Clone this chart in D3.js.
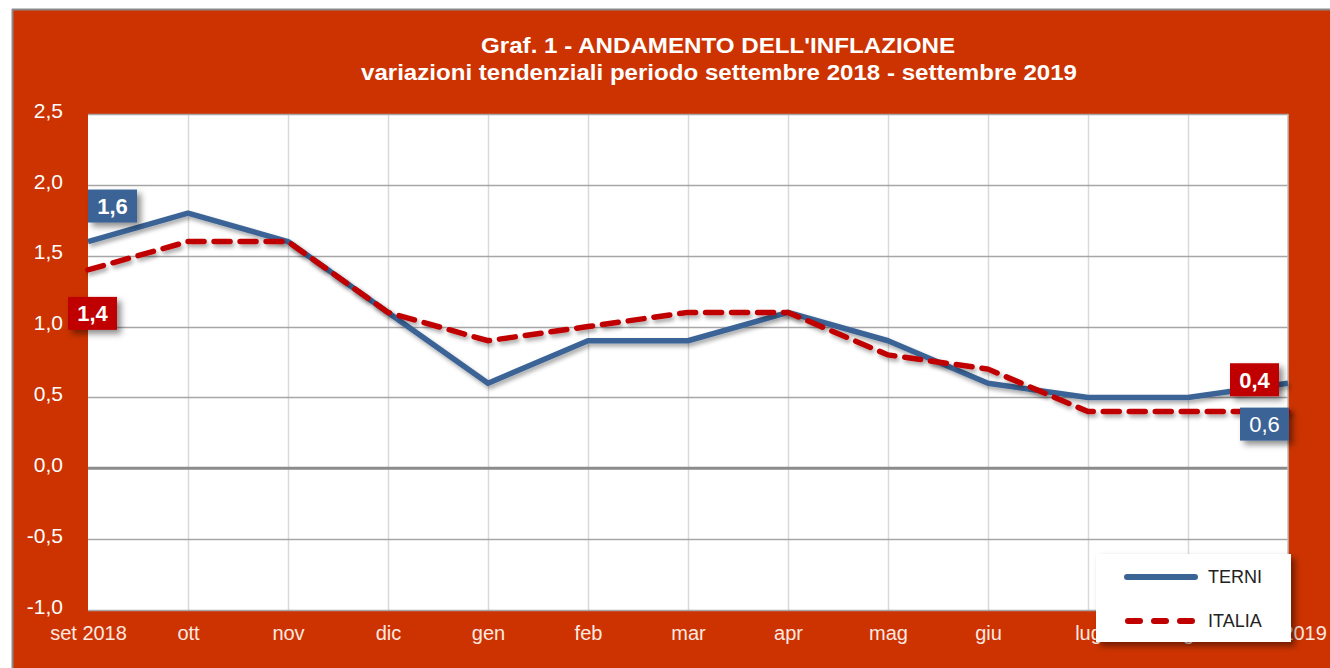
<!DOCTYPE html>
<html><head><meta charset="utf-8">
<script src="https://cdn.jsdelivr.net/npm/d3@7"></script>
<style>
html,body{margin:0;padding:0;background:#fff;}
svg{display:block;}
</style></head>
<body>
<svg id="c" width="1330" height="668"></svg>
<script>
const months = ["set 2018","ott","nov","dic","gen","feb","mar","apr","mag","giu","lug","ago","set 2019"];
const terni  = [1.6,1.8,1.6,1.1,0.6,0.9,0.9,1.1,0.9,0.6,0.5,0.5,0.6];
const italia = [1.4,1.6,1.6,1.1,0.9,1.0,1.1,1.1,0.8,0.7,0.4,0.4,0.4];
const yTicks = [-1.0,-0.5,0.0,0.5,1.0,1.5,2.0,2.5];
const seriesNames = ["TERNI","ITALIA"];
const titleLines = ["Graf. 1 - ANDAMENTO DELL'INFLAZIONE","variazioni tendenziali periodo settembre 2018 - settembre 2019"];
const endLabels = [
  {text:"1,6", color:"#3A6496", bold:true},
  {text:"1,4", color:"#C00000", bold:true},
  {text:"0,4", color:"#C00000", bold:true},
  {text:"0,6", color:"#3A6496", bold:false}
];

const svg = d3.select("#c");
const defs = svg.append("defs");
const f = defs.append("filter").attr("id","sh").attr("x","-20%").attr("y","-50%").attr("width","150%").attr("height","250%");
f.append("feDropShadow").attr("dx",2).attr("dy",3).attr("stdDeviation",2).attr("flood-color","#000").attr("flood-opacity",0.35);
const f2 = defs.append("filter").attr("id","bsh").attr("x","-30%").attr("y","-30%").attr("width","170%").attr("height","170%");
f2.append("feDropShadow").attr("dx",4).attr("dy",4).attr("stdDeviation",3).attr("flood-color","#000").attr("flood-opacity",0.45);

// frame
svg.append("rect").attr("x",12).attr("y",9).attr("width",1330).attr("height",680).attr("fill","#CC3300");
svg.append("line").attr("x1",12).attr("x2",1330).attr("y1",9.5).attr("y2",9.5).attr("stroke","#8a8a8a").attr("stroke-width",2);
svg.append("line").attr("x1",12.5).attr("x2",12.5).attr("y1",9).attr("y2",668).attr("stroke","#8a8a8a").attr("stroke-width",2);

const L=88, R=1288, T=114, B=610;
const x = d3.scalePoint().domain(months).range([L,R]);
const y = d3.scaleLinear().domain([-1,2.5]).range([B,T]);

svg.append("rect").attr("x",L).attr("y",T).attr("width",R-L).attr("height",B-T).attr("fill","#fff");

svg.append("g").selectAll("line").data(months.slice(1,-1)).join("line")
  .attr("x1",d=>x(d)+0.5).attr("x2",d=>x(d)+0.5).attr("y1",T).attr("y2",B)
  .attr("stroke","#d9d9d9").attr("stroke-width",1.5);
svg.append("g").selectAll("line").data(yTicks.filter(v=>v!==0)).join("line")
  .attr("x1",L).attr("x2",R).attr("y1",d=>Math.round(y(d))+0.5).attr("y2",d=>Math.round(y(d))+0.5)
  .attr("stroke","#a6a6a6").attr("stroke-width",1.5);
svg.append("line").attr("x1",L).attr("x2",R).attr("y1",y(0)).attr("y2",y(0)).attr("stroke","#8c8c8c").attr("stroke-width",3);
svg.append("line").attr("x1",R).attr("x2",R).attr("y1",T).attr("y2",B).attr("stroke","#bfbfbf").attr("stroke-width",1.5);

const yAxis = d3.axisLeft(y).tickValues(yTicks).tickSize(0).tickPadding(0)
  .tickFormat(d=>d3.format(".1f")(d).replace(".",",").replace("−","-"));
const gy = svg.append("g").attr("transform",`translate(63,0)`).call(yAxis);
gy.select(".domain").remove();
gy.selectAll("text").attr("fill","#fff").attr("font-family","Liberation Sans, Arial, sans-serif").attr("font-size",21).attr("dy","0.15em");

const xAxis = d3.axisBottom(x).tickSize(0).tickPadding(0);
const gx = svg.append("g").attr("transform",`translate(0,626)`).call(xAxis);
gx.select(".domain").remove();
gx.selectAll("text").attr("fill","#fde9e0").attr("font-family","Liberation Sans, Arial, sans-serif").attr("font-size",20).attr("dy","0.7em");

const line = d3.line().x((d,i)=>x(months[i])).y(d=>y(d));
svg.append("path").datum(terni).attr("d",line).attr("fill","none").attr("stroke","#3A6496")
  .attr("stroke-width",5.5).attr("stroke-linejoin","round").attr("filter","url(#sh)");
svg.append("path").datum(italia).attr("d",line).attr("fill","none").attr("stroke","#C00000")
  .attr("stroke-width",5.5).attr("stroke-dasharray","16,10").attr("stroke-linecap","round").attr("filter","url(#sh)");

function labelBox(lb,cx,cy){
  const w=49,h=33;
  const g=svg.append("g");
  g.append("rect").attr("x",cx).attr("y",cy).attr("width",w).attr("height",h).attr("fill",lb.color).attr("filter","url(#bsh)");
  g.append("text").attr("x",cx+w/2).attr("y",cy+h/2).attr("dy","0.36em").attr("text-anchor","middle")
    .attr("fill","#fff").attr("font-family","Liberation Sans, Arial, sans-serif").attr("font-size",22)
    .attr("font-weight",lb.bold?"bold":"normal").text(lb.text);
}
labelBox(endLabels[0],x(months[0]),y(terni[0])-52);
labelBox(endLabels[1],x(months[0])-20,y(italia[0])+27);
labelBox(endLabels[2],x(months[12])-58,y(terni[12])-20);
labelBox(endLabels[3],x(months[12])-48,y(italia[12])-4);

const lg = svg.append("g");
lg.append("rect").attr("x",1096).attr("y",554).attr("width",195).attr("height",88).attr("fill","#fff").attr("filter","url(#bsh)");
const ly=[577,621];
lg.append("line").attr("x1",1127).attr("x2",1195).attr("y1",ly[0]).attr("y2",ly[0]).attr("stroke","#3A6496").attr("stroke-width",6).attr("stroke-linecap","round");
lg.append("line").attr("x1",1128).attr("x2",1195).attr("y1",ly[1]).attr("y2",ly[1]).attr("stroke","#C00000").attr("stroke-width",6).attr("stroke-linecap","round").attr("stroke-dasharray","12,14");
lg.selectAll("text").data(seriesNames).join("text").attr("x",1208).attr("y",(d,i)=>ly[i]).attr("dy","0.36em")
  .attr("fill","#222").attr("font-family","Liberation Sans, Arial, sans-serif").attr("font-size",18).text(d=>d);

svg.append("text").attr("x",718).attr("y",53).attr("text-anchor","middle").attr("fill","#fff")
  .attr("font-family","Liberation Sans Narrow, Liberation Sans, Arial, sans-serif").attr("font-weight","bold").attr("font-size",22)
  .attr("textLength",474).attr("lengthAdjust","spacingAndGlyphs").text(titleLines[0]);
svg.append("text").attr("x",719).attr("y",80).attr("text-anchor","middle").attr("fill","#fff")
  .attr("font-family","Liberation Sans Narrow, Liberation Sans, Arial, sans-serif").attr("font-weight","bold").attr("font-size",22)
  .attr("textLength",716).attr("lengthAdjust","spacingAndGlyphs").text(titleLines[1]);
</script>
</body></html>
